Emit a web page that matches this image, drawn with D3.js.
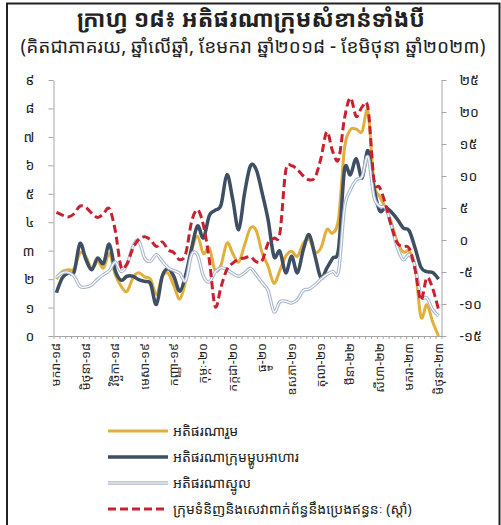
<!DOCTYPE html>
<html>
<head>
<meta charset="utf-8">
<script src="https://cdn.jsdelivr.net/npm/d3@7"></script>
<style>
    body { margin: 0; background: #fff; }
    svg text { font-family: "Noto Sans Khmer", "Khmer OS", "Noto Sans", sans-serif; fill: #222; }
</style>
</head>
<body>
<div id="chart"></div>
<script>
// month labels shown every 5 months (Jan 2018 .. Jun 2023)
const tickLabels = ["មករា-១៨", "មិថុនា-១៨", "វិច្ឆិកា-១៨", "មេសា-១៩", "កញ្ញា-១៩", "កុម្ភៈ-២០", "កក្កដា-២០",
    "ធ្នូ-២០", "ឧសភា-២១", "តុលា-២១", "មីនា-២២", "សីហា-២២", "មករា-២៣", "មិថុនា-២៣"];

const seriesNames = ["អតិផរណារួម", "អតិផរណាក្រុមម្ហូបអាហារ", "អតិផរណាស្នូល",
    "ក្រុមទំនិញនិងសេវាពាក់ព័ន្ធនឹងប្រេងឥន្ធនៈ (ស្តាំ)"];

// left axis (%)
const headline = [2.0, 2.27, 2.33, 2.36, 2.92, 2.8, 2.36, 2.63, 2.39, 2.9,
    2.16, 1.75, 1.57, 2.04, 2.22, 2.08, 2.0, 1.46, 2.1, 2.2,
    1.75, 1.3, 1.95, 3.0, 3.5, 2.9, 3.1, 2.3, 2.5, 3.27,
    2.9, 2.6, 3.2, 3.8, 3.7, 2.92, 2.45, 1.85, 2.3, 2.8,
    2.98, 2.8, 3.27, 3.39, 2.95, 3.1, 3.74, 3.62, 4.15, 6.6,
    7.25, 7.27, 7.19, 7.9, 5.4, 4.9, 4.5, 3.97, 3.3, 2.95,
    2.98, 2.45, 0.67, 1.1, 0.5, 0.0];

const food = [1.52, 2.04, 2.22, 2.25, 3.25, 2.7, 2.33, 2.74, 2.55, 3.23,
    2.3, 1.96, 2.1, 2.1, 1.98, 1.92, 1.84, 1.11, 2.1, 2.36,
    2.08, 1.57, 2.16, 3.09, 3.87, 3.45, 4.23, 4.42, 4.61, 5.67,
    4.79, 3.74, 5.02, 5.98, 5.84, 5.02, 4.09, 2.8, 2.98, 2.22,
    2.8, 2.22, 3.04, 3.56, 2.8, 2.04, 2.39, 2.74, 3.09, 5.85,
    5.67, 6.23, 5.55, 6.52, 5.2, 4.4, 4.52, 4.35, 4.1, 3.8,
    3.7, 3.1, 2.42, 2.26, 2.23, 2.0];

const core = [2.06, 2.22, 2.24, 2.1, 1.75, 1.72, 1.8, 2.0, 2.16, 2.3,
    2.6, 2.27, 2.5, 3.15, 3.35, 2.74, 2.63, 2.86, 2.63, 2.4,
    2.3, 2.2, 1.95, 2.86, 2.85, 2.1, 1.9, 2.25, 2.4, 2.33,
    2.2, 2.1, 2.22, 2.38, 2.15, 1.87, 1.6, 0.85, 1.2, 1.22,
    1.16, 1.28, 1.6, 1.65, 1.8, 2.0, 2.16, 2.27, 2.3, 4.5,
    5.14, 5.49, 5.61, 6.3, 4.9, 4.56, 4.5, 3.86, 3.1, 2.68,
    2.86, 2.45, 1.4, 1.34, 0.93, 0.7];

// right axis (%)
const fuel = [4.3, 3.9, 3.6, 4.1, 5.3, 5.1, 4.2, 3.5, 4.1, 4.9,
    1.5, -4.2, -3.7, -1.3, 0.1, 0.5, 0.0, -1.0, -0.3, -1.5,
    -2.0, -3.1, -2.1, 2.9, 4.7, 2.3, -3.1, -10.4, -7.3, -4.6,
    -3.6, -3.0, -2.8, -2.6, -3.4, -3.2, -0.5, 0.3, 1.0, 10.8,
    11.6, 11.0, 10.0, 9.4, 9.8, 12.8, 16.9, 13.8, 12.6, 19.0,
    22.2, 19.3, 20.8, 20.6, 9.5, 8.2, 5.5, 2.1, -0.5, -1.0,
    -1.3, -4.6, -9.4, -5.9, -7.6, -10.9];

const leftTicks = d3.range(0, 10);
const rightTicks = d3.range(-15, 30, 5);

const khDigits = "០១២៣៤៥៦៧៨៩";
const kh = n => String(n).replace(/\d/g, d => khDigits[d]);

const W = 501, H = 525;
const svg = d3.select("#chart").append("svg")
    .attr("width", W).attr("height", H);

// outer frame
svg.append("rect")
    .attr("x", 7).attr("y", 3.5)
    .attr("width", 492.5).attr("height", 540)
    .attr("fill", "none").attr("stroke", "#222").attr("stroke-width", 2);

svg.append("text")
    .attr("x", 251).attr("y", 27)
    .attr("text-anchor", "middle")
    .style("font-size", "23px").style("font-weight", "bold")
    .text("ក្រាហ្វ ១៨៖ អតិផរណាក្រុមសំខាន់ទាំងបី");

svg.append("text")
    .attr("x", 253).attr("y", 53)
    .attr("text-anchor", "middle")
    .style("font-size", "19px")
    .text("(គិតជាភាគរយ, ឆ្នាំលើឆ្នាំ, ខែមករា ឆ្នាំ២០១៨ - ខែមិថុនា ឆ្នាំ២០២៣)");

const n = headline.length;
const x = d3.scaleLinear().domain([0, n]).range([53.5, 441.5]);
const yL = d3.scaleLinear().domain([0, 9]).range([336, 80]);
const yR = d3.scaleLinear().domain([-15, 25]).range([336, 80]);

const axisColor = "#a6a6a6";

function styleAxis(g) {
    g.selectAll("path, line").attr("stroke", axisColor);
    g.selectAll("text").style("font-size", "14px").attr("fill", "#333");
}

svg.append("g")
    .attr("transform", "translate(53.5,0)")
    .call(d3.axisLeft(yL).tickValues(leftTicks).tickSize(5).tickSizeOuter(0).tickPadding(14).tickFormat(kh))
    .call(styleAxis);

svg.append("g")
    .attr("transform", "translate(441.5,0)")
    .call(d3.axisRight(yR).tickValues(rightTicks).tickSize(5).tickSizeOuter(0).tickPadding(13).tickFormat(kh))
    .call(styleAxis);

svg.append("g")
    .attr("transform", "translate(0,336)")
    .call(d3.axisBottom(x).tickValues(d3.range(0, n + 1)).tickSize(3).tickSizeOuter(0).tickFormat(""))
    .call(styleAxis);

// rotated month labels
svg.append("g").selectAll("text")
    .data(tickLabels)
    .join("text")
    .attr("transform", (d, i) => `translate(${x(i * 5 + 0.5) + 4},343) rotate(-90)`)
    .attr("text-anchor", "end")
    .style("font-size", "12.5px")
    .text(d => d);

const curve = d3.curveCardinal.tension(0);
const lineL = d3.line().x((d, i) => x(i + 0.5)).y(d => yL(d)).curve(curve);
const lineR = d3.line().x((d, i) => x(i + 0.5)).y(d => yR(d)).curve(curve);

const plot = svg.append("g").attr("fill", "none").attr("stroke-linejoin", "round");

plot.append("path").attr("d", lineL(headline))
    .attr("stroke", "#e1b03c").attr("stroke-width", 3);

plot.append("path").attr("d", lineL(food))
    .attr("stroke", "#3e4e63").attr("stroke-width", 3.5);

plot.append("path").attr("d", lineL(core))
    .attr("stroke", "#a9b8cf").attr("stroke-width", 3.4);
plot.append("path").attr("d", lineL(core))
    .attr("stroke", "#fff").attr("stroke-width", 1.2);

plot.append("path").attr("d", lineR(fuel))
    .attr("stroke", "#c8202e").attr("stroke-width", 3).attr("stroke-dasharray", "8,4");

// legend
const legendStyles = [
    { color: "#e1b03c", width: 3 },
    { color: "#3e4e63", width: 3.5 },
    { color: "#a9b8cf", width: 3.4, inner: true },
    { color: "#c8202e", width: 3, dash: "8,4" }
];

const legend = svg.append("g");
seriesNames.forEach((name, i) => {
    const y = 431 + i * 26;
    const s = legendStyles[i];
    legend.append("line")
        .attr("x1", 108).attr("x2", 168).attr("y1", y).attr("y2", y)
        .attr("stroke", s.color).attr("stroke-width", s.width)
        .attr("stroke-dasharray", s.dash || null);
    if (s.inner) {
        legend.append("line")
            .attr("x1", 108).attr("x2", 168).attr("y1", y).attr("y2", y)
            .attr("stroke", "#fff").attr("stroke-width", 1.2);
    }
    legend.append("text")
        .attr("x", 173).attr("y", y + 5)
        .style("font-size", "14px")
        .text(name);
});
</script>
</body>
</html>
